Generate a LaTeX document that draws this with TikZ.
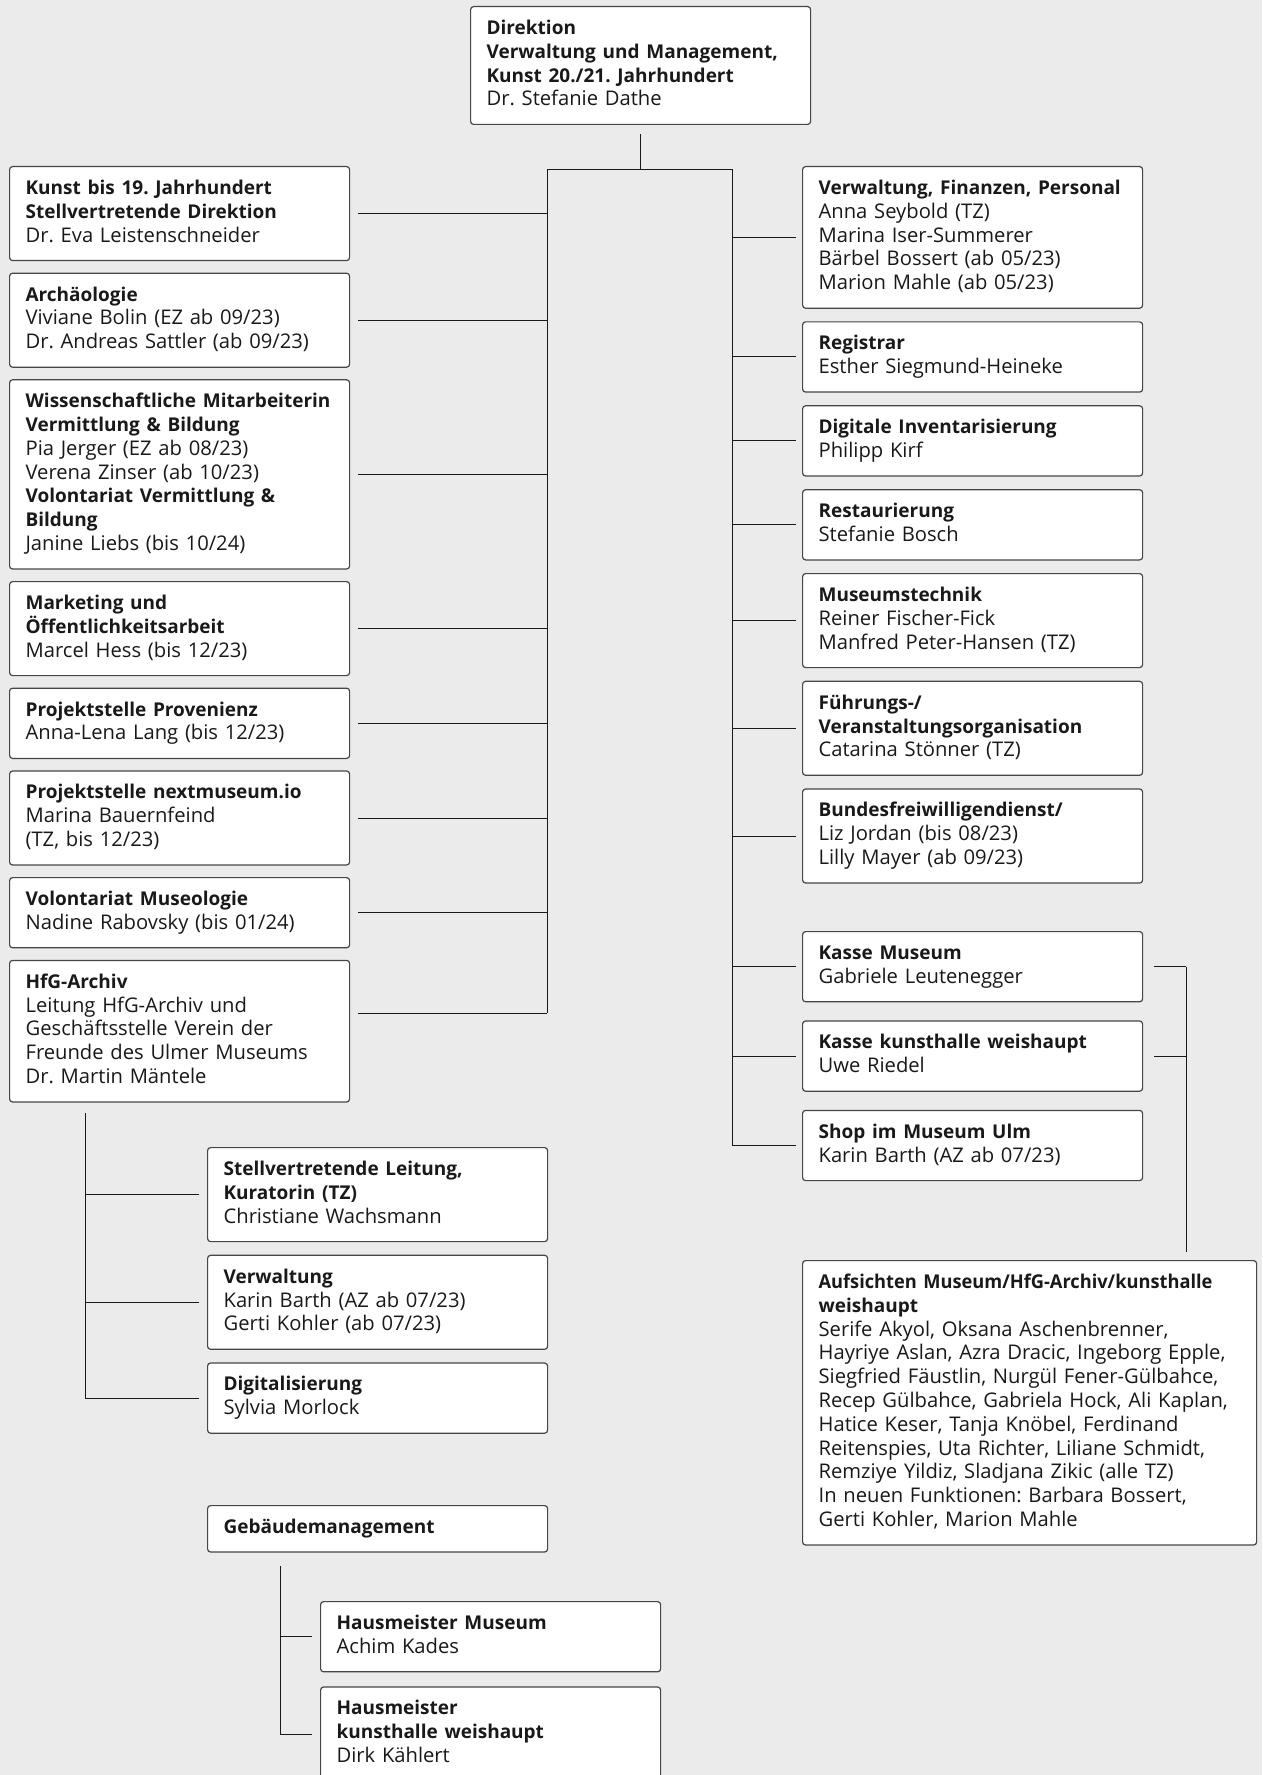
\documentclass[tikz,border=0pt]{standalone}
\usepackage{fontspec}
\usepackage{graphicx}
\setmainfont{Open Sans}
\frenchspacing
\usetikzlibrary{positioning}

\definecolor{pagegrey}{RGB}{235,235,235}
\definecolor{boxline}{RGB}{70,70,70}
\definecolor{inkgrey}{RGB}{25,25,25}
\newcommand{\orgfont}{\fontsize{10.1pt}{11.9pt}\selectfont\lineskiplimit=-6pt}
\newcommand{\hd}[1]{{\fontsize{9.5pt}{11.9pt}\selectfont\bfseries #1}}

\tikzset{
  unit/.style={draw=boxline, fill=white, line width=0.6pt, rounded corners=1.5pt,
    anchor=north west, align=left, text width=154pt, inner xsep=8pt, inner ysep=5.65pt,
    font=\orgfont, text=inkgrey, execute at begin node=\strut, execute at end node=\strut},
  wideunit/.style={unit, text width=211pt},
  conn/.style={draw=inkgrey, line width=0.5pt}
}

\begin{document}
\begin{tikzpicture}[x=0.5pt, y=-0.5pt]
  \fill[pagegrey] (0,0) rectangle (1262,1775);
  \useasboundingbox (0,0) rectangle (1262,1775);

  % Direktion
  \node[unit] (dir) at (470,6) {\hd{Direktion}\\\hd{Verwaltung und Management,}\\\hd{Kunst 20./21. Jahrhundert}\\Dr. Stefanie Dathe};

  % left column
  \node[unit] (kunst) at (9,166) {\hd{Kunst bis 19. Jahrhundert}\\\hd{Stellvertretende Direktion}\\Dr. Eva Leistenschneider};
  \node[unit, below=5.7pt of kunst] (arch) {\hd{Archäologie}\\Viviane Bolin (EZ ab 09/23)\\Dr. Andreas Sattler (ab 09/23)};
  \node[unit, below=5.7pt of arch] (wiss) {\hd{Wissenschaftliche Mitarbeiterin}\\\hd{Vermittlung \& Bildung}\\Pia Jerger (EZ ab 08/23)\\Verena Zinser (ab 10/23)\\\hd{Volontariat Vermittlung \&}\\\hd{Bildung}\\Janine Liebs (bis 10/24)};
  \node[unit, below=5.7pt of wiss] (mark) {\hd{Marketing und}\\\hd{Öffentlichkeitsarbeit}\\Marcel Hess (bis 12/23)};
  \node[unit, below=5.7pt of mark] (prov) {\hd{Projektstelle Provenienz}\\Anna-Lena Lang (bis 12/23)};
  \node[unit, below=5.7pt of prov] (next) {\hd{Projektstelle nextmuseum.io}\\Marina Bauernfeind\\(TZ, bis 12/23)};
  \node[unit, below=5.7pt of next] (volo) {\hd{Volontariat Museologie}\\Nadine Rabovsky (bis 01/24)};
  \node[unit, below=5.7pt of volo] (hfg) {\hd{HfG-Archiv}\\Leitung HfG-Archiv und\\Geschäftsstelle Verein der\\Freunde des Ulmer Museums\\Dr. Martin Mäntele};

  % right column
  \node[unit] (vfp) at (802,166) {\hd{Verwaltung, Finanzen, Personal}\\Anna Seybold (TZ)\\Marina Iser-Summerer\\Bärbel Bossert (ab 05/23)\\Marion Mahle (ab 05/23)};
  \node[unit, below=6.25pt of vfp] (reg) {\hd{Registrar}\\Esther Siegmund-Heineke};
  \node[unit, below=6.25pt of reg] (dig) {\hd{Digitale Inventarisierung}\\Philipp Kirf};
  \node[unit, below=6.25pt of dig] (rest) {\hd{Restaurierung}\\Stefanie Bosch};
  \node[unit, below=6.25pt of rest] (tech) {\hd{Museumstechnik}\\Reiner Fischer-Fick\\Manfred Peter-Hansen (TZ)};
  \node[unit, below=6.25pt of tech] (fuehr) {\hd{Führungs-/}\\\hd{Veranstaltungsorganisation}\\Catarina Stönner (TZ)};
  \node[unit, below=6.25pt of fuehr] (bfd) {\hd{Bundesfreiwilligendienst/}\\Liz Jordan (bis 08/23)\\Lilly Mayer (ab 09/23)};
  \node[unit] (kasse) at (802,931) {\hd{Kasse Museum}\\Gabriele Leutenegger};
  \node[unit, below=9pt of kasse] (kassekw) {\hd{Kasse kunsthalle weishaupt}\\Uwe Riedel};
  \node[unit, below=9pt of kassekw] (shop) {\hd{Shop im Museum Ulm}\\Karin Barth (AZ ab 07/23)};
  \node[wideunit] (aufs) at (802,1260) {\scalebox{0.96}[1]{\hd{Aufsichten Museum/HfG-Archiv/kunsthalle}}\\\hd{weishaupt}\\Serife Akyol, Oksana Aschenbrenner,\\Hayriye Aslan, Azra Dracic, Ingeborg Epple,\\Siegfried Fäustlin, Nurgül Fener-Gülbahce,\\Recep Gülbahce, Gabriela Hock, Ali Kaplan,\\Hatice Keser, Tanja Knöbel, Ferdinand\\Reitenspies, Uta Richter, Liliane Schmidt,\\Remziye Yildiz, Sladjana Zikic (alle TZ)\\In neuen Funktionen: Barbara Bossert,\\Gerti Kohler, Marion Mahle};

  % HfG-Archiv sub units
  \node[unit] (stell) at (207,1147) {\hd{Stellvertretende Leitung,}\\\hd{Kuratorin (TZ)}\\Christiane Wachsmann};
  \node[unit, below=6.25pt of stell] (verw) {\hd{Verwaltung}\\Karin Barth (AZ ab 07/23)\\Gerti Kohler (ab 07/23)};
  \node[unit, below=6.25pt of verw] (digi) {\hd{Digitalisierung}\\Sylvia Morlock};

  % Gebaeudemanagement
  \node[unit] (geb) at (207,1505) {\hd{Gebäudemanagement}};
  \node[unit] (hmus) at (320,1601) {\hd{Hausmeister Museum}\\Achim Kades};
  \node[unit, below=7pt of hmus] (hkw) {\hd{Hausmeister}\\\hd{kunsthalle weishaupt}\\Dirk Kählert};

  % trunk lines
  \coordinate (tl) at (547,170);
  \coordinate (tr) at (732,170);
  \draw[conn] ([yshift=-4.5pt]dir.south) -- (dir.south |- tl);
  \draw[conn] ([xshift=4pt,yshift=9pt]hfg.east) coordinate (hj) -- (hj -| tl);
  \draw[conn] (hj -| tl) -- (tl) -- (tr) -- (tr |- shop.west);
  \foreach \n in {kunst,arch,wiss,mark,prov,next,volo}
    \draw[conn] ([xshift=4pt]\n.east) -- (\n.east -| tl);
  \foreach \n in {vfp,reg,dig,rest,tech,fuehr,bfd,kasse,kassekw,shop}
    \draw[conn] ([xshift=-3pt]\n.west) -- (\n.west -| tr);

  % Kasse to Aufsichten
  \coordinate (br) at (1186,0);
  \draw[conn] ([xshift=5.5pt]kasse.east) -- (kasse.east -| br);
  \draw[conn] ([xshift=5.5pt]kassekw.east) -- (kassekw.east -| br);
  \draw[conn] (kasse.east -| br) -- ([yshift=4pt]aufs.north -| br);

  % HfG-Archiv branch
  \coordinate (hv) at (85,1113);
  \draw[conn] (hv) -- (hv |- digi.west);
  \foreach \n in {stell,verw,digi}
    \draw[conn] ([xshift=-4pt]\n.west) -- (\n.west -| hv);

  % Gebaeude branch
  \coordinate (gv) at (280,1566);
  \draw[conn] (gv) -- (gv |- hkw.west);
  \foreach \n in {hmus,hkw}
    \draw[conn] ([xshift=-4pt]\n.west) -- (\n.west -| gv);
\end{tikzpicture}
\end{document}
